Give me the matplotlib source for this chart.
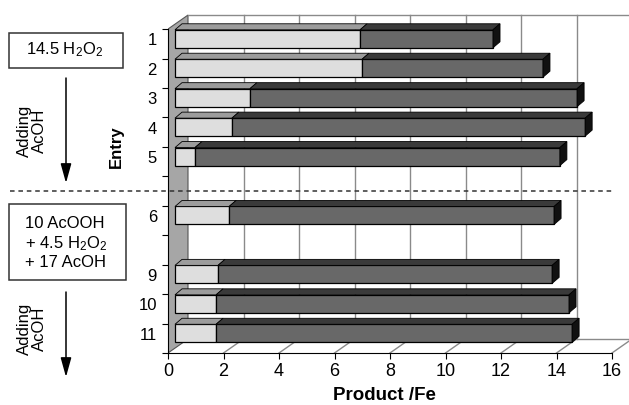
import matplotlib.pyplot as plt
from matplotlib.patches import Polygon, Rectangle
import numpy as np

plt.rcParams['font.family'] = ['Liberation Sans', 'DejaVu Sans']
plt.rcParams['mathtext.default'] = 'regular'

#-- DATA --

entries = ['1', '2', '3', '4', '5', '', '6', '', '9', '10', '11']
light_part = [6.67, 6.74, 2.70, 2.05, 0.72, np.nan, 1.95, np.nan, 1.55, 1.48, 1.48]
dark_part = [4.79, 6.52, 11.79, 12.73, 13.15, np.nan, 11.71, np.nan, 12.04, 12.72, 12.83]
x_ticks = [0, 2, 4, 6, 8, 10, 12, 14, 16]

#-- LAYOUT (pixels) --

W, H = 629, 405
px_x = (612 - 168) / 16          # pixels per x unit on front plane
px_y = 29.45                     # pixels per entry slot
n = len(entries)

fig = plt.figure(figsize=(W / 100, H / 100), dpi=100)
ax = fig.add_axes([168 / W, (H - 353) / H, (W - 168) / W, (353 - 14) / H])
ax.set_xlim(0, (W - 168) / px_x)
ax.set_ylim(0, (353 - 14) / px_y)

DX, DY = 20 / px_x, 14 / px_y    # wall depth
BX, BY = 7 / px_x, 5 / px_y      # bar front offset
bdx, bdy = 7 / px_x, 6 / px_y    # bar depth
bh = 18 / px_y                   # bar front height
xmax = x_ticks[-1]

centers = np.array([n - i - 0.5 for i in range(n)])
light = np.array(light_part)
dark = np.array(dark_part)
ok = ~np.isnan(light)

grid_c = '#8a8a8a'

#-- WALLS --

ax.add_patch(Polygon([(0, 0), (DX, DY), (DX, n + DY), (0, n)], closed=True,
                     facecolor='#a6a6a6', edgecolor='#555555', lw=0.8, zorder=1))
ax.plot([DX, ax.get_xlim()[1]], [n + DY, n + DY], color=grid_c, lw=1, zorder=1)
ax.plot([DX, ax.get_xlim()[1]], [DY, DY], color=grid_c, lw=1, zorder=1)
for x in x_ticks[1:]:
    ax.plot([x + DX, x + DX], [DY, n + DY], color=grid_c, lw=1, zorder=1)
    ax.plot([x, x + DX], [0, DY], color=grid_c, lw=1, zorder=1)

#-- BARS --

yb = centers[ok] + BY
ax.barh(yb, light[ok], left=BX, height=bh, color='#dedede',
        edgecolor='black', lw=0.9, zorder=3)
ax.barh(yb, dark[ok], left=BX + light[ok], height=bh, color='#686868',
        edgecolor='black', lw=0.9, zorder=3)

for y, a, b in zip(yb, light[ok], dark[ok]):
    y1 = y + bh / 2
    y0 = y - bh / 2
    xa = BX + a
    xb = BX + a + b
    ax.add_patch(Polygon([(BX, y1), (xa, y1), (xa + bdx, y1 + bdy), (BX + bdx, y1 + bdy)],
                         closed=True, facecolor='#9c9c9c', edgecolor='black', lw=0.6, zorder=3))
    ax.add_patch(Polygon([(xa, y1), (xb, y1), (xb + bdx, y1 + bdy), (xa + bdx, y1 + bdy)],
                         closed=True, facecolor='#3a3a3a', edgecolor='black', lw=0.6, zorder=3))
    ax.add_patch(Polygon([(xb, y0), (xb + bdx, y0 + bdy), (xb + bdx, y1 + bdy), (xb, y1)],
                         closed=True, facecolor='#111111', edgecolor='black', lw=0.6, zorder=3))

#-- AXES --

for s in ['top', 'right']:
    ax.spines[s].set_visible(False)
ax.spines['bottom'].set_bounds(0, xmax)
ax.spines['left'].set_bounds(0, n)
ax.set_xticks(x_ticks)
ax.set_xticklabels([str(t) for t in x_ticks], fontsize=13)
ax.set_yticks(range(n + 1))
ax.set_yticklabels([])
ax.set_yticks(centers + 0.15, minor=True)
ax.set_yticklabels(entries, minor=True, fontsize=12)
ax.tick_params(axis='x', length=4, pad=3, direction='out')
ax.tick_params(axis='y', which='major', length=4, direction='out')
ax.tick_params(axis='y', which='minor', length=0, pad=8)
ax.patch.set_alpha(0)

# dashed separator through the empty slot
gap_y = centers[entries.index('')]
ax.plot([-(168 - 10) / px_x, xmax], [gap_y, gap_y], ls=(0, (3, 2.5)),
        color='#333333', lw=1.1, clip_on=False, zorder=5)

#-- LABELS AND NOTES --

def note(txt, x, y, **kw):
    ax.annotate(txt, xy=(x, H - y), xycoords='figure pixels', **kw)

def box(x0, y0, x1, y1):
    fig.add_artist(Rectangle((x0 / W, 1 - y1 / H), (x1 - x0) / W, (y1 - y0) / H,
                             transform=fig.transFigure, fc='none', ec='#333333', lw=1.1))

note('Product /Fe', 384, 395, ha='center', va='center', fontsize=13.5, fontweight='bold')
note('Entry', 116, 147, ha='center', va='center', fontsize=12, fontweight='bold', rotation=90)

box(9, 33, 123, 68)
note('14.5 H$_2$O$_2$', 65, 50, ha='center', va='center', fontsize=12)
box(9, 204, 126, 280)
note('10 AcOOH\n+ 4.5 H$_2$O$_2$\n+ 17 AcOH', 25, 243, ha='left', va='center',
     fontsize=12, linespacing=1.2)

for y0, y1, yt in [(78, 183, 131), (292, 377, 329)]:
    note('', 66, y1, xytext=(66, H - y0), textcoords='figure pixels',
         arrowprops=dict(arrowstyle='-|>,head_length=0.9,head_width=0.25',
                         mutation_scale=13, color='black', lw=1.1, shrinkA=0, shrinkB=0))
    note('Adding\nAcOH', 32, yt, ha='center', va='center', fontsize=12,
         rotation=90, multialignment='center', linespacing=0.95)

fig.savefig('out.png', dpi=100)
